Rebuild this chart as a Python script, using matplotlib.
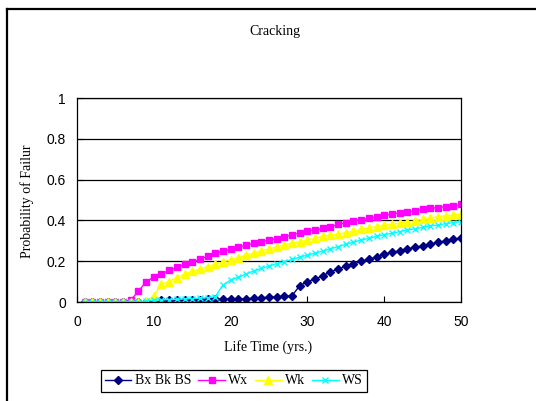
import matplotlib
matplotlib.use("Agg")
import matplotlib.pyplot as plt
from matplotlib.lines import Line2D

# data
years = list(range(1, 51))
bx_bk_bs = [0, 0, 0, 0, 0, 0, 0, 0, 0, 0.008,
            0.008, 0.009, 0.009, 0.010, 0.011, 0.012, 0.013, 0.013, 0.014, 0.015,
            0.015, 0.016, 0.018, 0.021, 0.023, 0.026, 0.027, 0.031, 0.080, 0.100,
            0.113, 0.129, 0.148, 0.162, 0.176, 0.186, 0.200, 0.209, 0.222, 0.234,
            0.244, 0.250, 0.260, 0.268, 0.275, 0.283, 0.293, 0.299, 0.307, 0.315]
wx = [0, 0, 0, 0, 0, 0, 0.010, 0.052, 0.100, 0.122,
      0.137, 0.155, 0.170, 0.185, 0.196, 0.209, 0.225, 0.240, 0.248, 0.258,
      0.268, 0.279, 0.287, 0.295, 0.304, 0.311, 0.319, 0.329, 0.339, 0.347,
      0.353, 0.361, 0.369, 0.380, 0.389, 0.397, 0.404, 0.410, 0.419, 0.425,
      0.431, 0.437, 0.441, 0.448, 0.454, 0.459, 0.463, 0.467, 0.472, 0.478]
wk = [0, 0, 0, 0, 0, 0, 0, 0, 0.003, 0.030,
      0.087, 0.100, 0.120, 0.136, 0.150, 0.161, 0.173, 0.185, 0.196, 0.206,
      0.217, 0.230, 0.239, 0.252, 0.260, 0.270, 0.280, 0.288, 0.296, 0.304,
      0.312, 0.322, 0.328, 0.332, 0.340, 0.348, 0.356, 0.364, 0.369, 0.376,
      0.381, 0.386, 0.392, 0.397, 0.405, 0.412, 0.418, 0.423, 0.426, 0.431]
ws = [0, 0, 0, 0, 0, 0, 0, 0, 0.005, 0.008,
      0.010, 0.012, 0.013, 0.015, 0.017, 0.019, 0.021, 0.026, 0.083, 0.108,
      0.121, 0.137, 0.152, 0.165, 0.176, 0.188, 0.198, 0.209, 0.220, 0.230,
      0.239, 0.250, 0.261, 0.271, 0.283, 0.293, 0.304, 0.312, 0.322, 0.330,
      0.337, 0.345, 0.353, 0.359, 0.366, 0.373, 0.377, 0.384, 0.389, 0.394]

x_ticks = [0, 10, 20, 30, 40, 50]
y_ticks = [0, 0.2, 0.4, 0.6, 0.8, 1]
y_tick_labels = ["0", "0.2", "0.4", "0.6", "0.8", "1"]

W, H = 536, 401
fig = plt.figure(figsize=(W / 100, H / 100), dpi=100)
ax = fig.add_axes([77 / W, 1 - 302 / H, 384 / W, 204 / H])

ax.plot(years, bx_bk_bs, color="#000080", marker="D", markersize=4.5, lw=1, label="Bx Bk BS")
ax.plot(years, wx, color="#FF00FF", marker="s", markersize=5, lw=1, label="Wx")
ax.plot(years, wk, color="#FFFF00", marker="^", markersize=6, lw=1, label="Wk")
ax.plot(years, ws, color="#00FFFF", marker="x", markersize=5, mew=1, lw=1, label="WS")

ax.set_xlim(0, 50)
ax.set_ylim(0, 1)
ax.set_xticks(x_ticks)
ax.set_yticks(y_ticks)
ax.set_yticklabels(y_tick_labels)
ax.tick_params(direction="in", length=4, labelsize=10, color="black")
ax.tick_params(axis="x", pad=9)
ax.tick_params(axis="y", pad=8)
for lab in ax.get_xticklabels() + ax.get_yticklabels():
    lab.set_fontfamily("Liberation Sans")
ax.yaxis.grid(True, color="black", lw=0.9)
ax.set_axisbelow(True)
for s in ax.spines.values():
    s.set_color("black")
    s.set_linewidth(0.9)

serif = "Liberation Serif"
fig.text(275 / W, 1 - 31 / H, "Cracking", ha="center", va="center", fontsize=10, family=serif)
fig.text(268 / W, 1 - 347 / H, "Life Time (yrs.)", ha="center", va="center", fontsize=10, family=serif)
fig.text(27 / W, 1 - 201 / H, "Probability of Failur", ha="center", va="center",
         rotation=90, fontsize=10, family=serif)

leg = fig.legend(loc="center", bbox_to_anchor=(234 / W, 1 - 381 / H), ncol=4,
                 prop={"family": serif, "size": 10}, fancybox=False, edgecolor="black",
                 framealpha=1, handlelength=1.9, handletextpad=0.25, columnspacing=0.5,
                 borderpad=0.3, borderaxespad=0)
leg.get_frame().set_linewidth(0.9)

# outer chart frame (left and top edges only are visible)
fig.add_artist(Line2D([7 / W, 7 / W], [0, 1 - 9 / H], color="black", lw=1.6))
fig.add_artist(Line2D([7 / W, 1], [1 - 9 / H, 1 - 9 / H], color="black", lw=1.6))

fig.savefig("out.png", dpi=100)
